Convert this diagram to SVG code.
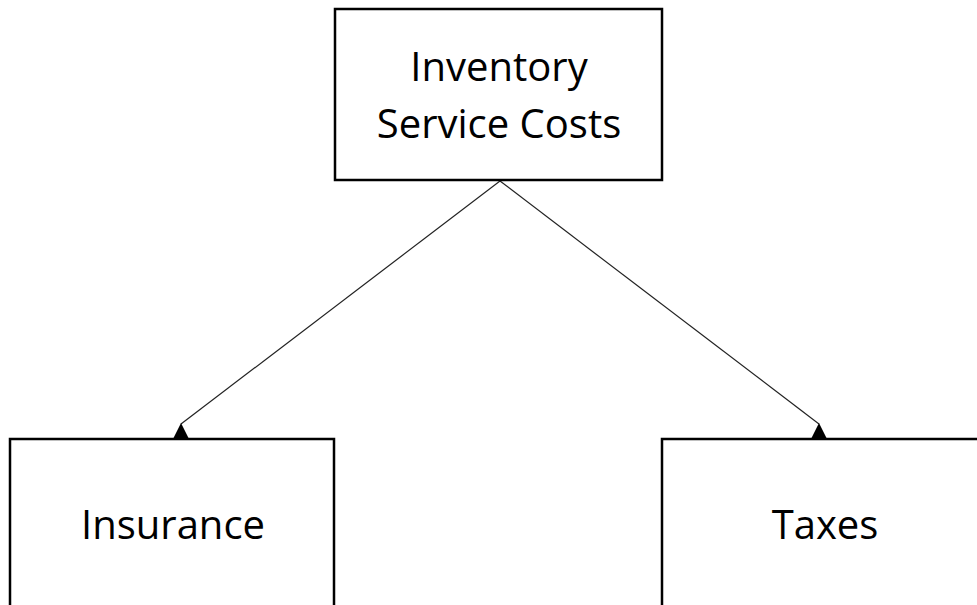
<svg xmlns="http://www.w3.org/2000/svg" width="977" height="605" viewBox="0 0 977 605">
<style>
.box{fill:#fff;stroke:#000;stroke-width:2.5}
.lbl{font-family:"Open Sans","Liberation Sans",sans-serif;font-size:40px;fill:#000;text-anchor:middle}
.conn{stroke:#222;stroke-width:1.2;fill:none;marker-end:url(#tri)}
</style>
<defs>
<marker id="tri" markerUnits="userSpaceOnUse" orient="0" markerWidth="20" markerHeight="20" refX="10" refY="0" viewBox="0 0 20 20" overflow="visible">
<path d="M10,-1 L18,15 L2,15 Z" fill="#000"/>
</marker>
</defs>
<rect width="977" height="605" fill="#fff"/>
<g id="connectors">
<line class="conn" x1="500" y1="181" x2="181" y2="424"/>
<line class="conn" x1="500" y1="181" x2="819" y2="424"/>
</g>
<g id="node-inventory">
<rect class="box" x="335" y="9" width="327" height="171"/>
<text class="lbl" x="499" y="81">Inventory</text>
<text class="lbl" x="499" y="138">Service Costs</text>
</g>
<g id="node-insurance">
<rect class="box" x="10" y="439" width="324" height="190"/>
<text class="lbl" x="173" y="539">Insurance</text>
</g>
<g id="node-taxes">
<rect class="box" x="662" y="439" width="326" height="190"/>
<text class="lbl" x="825" y="539">Taxes</text>
</g>
</svg>
